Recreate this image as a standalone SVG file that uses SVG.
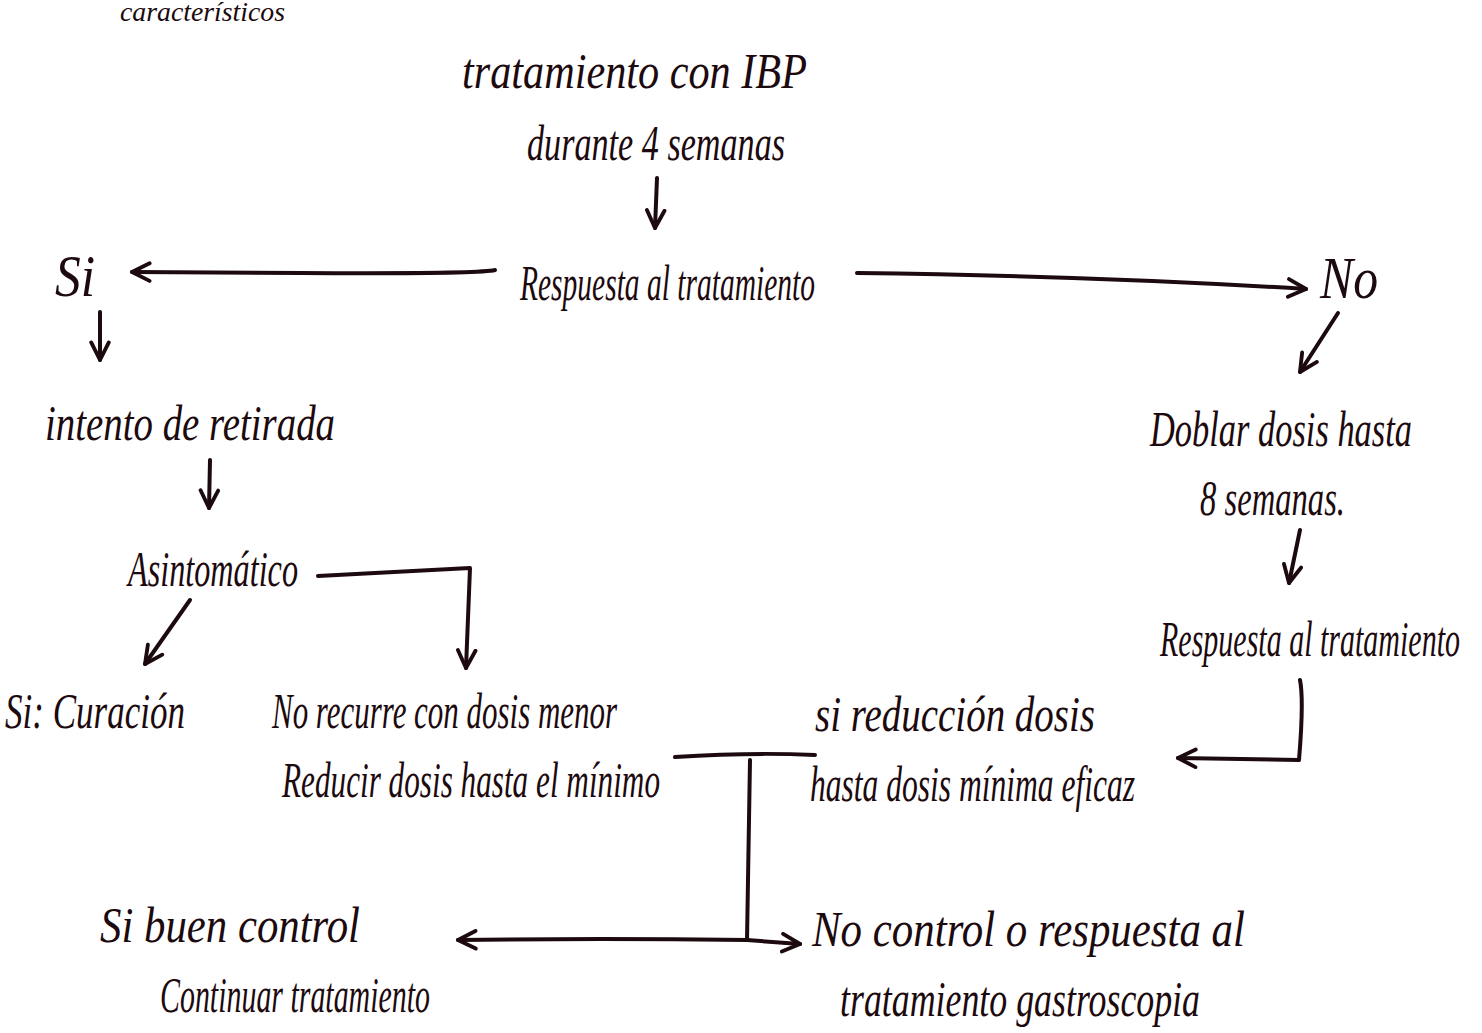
<svg xmlns="http://www.w3.org/2000/svg" width="1482" height="1033" viewBox="0 0 1482 1033">
<defs>
<style>
text{font-family:"Liberation Serif","DejaVu Serif",serif;font-style:italic;fill:#1c0a0e;font-size:50px}
.big{font-size:60px}
.c{fill:none;stroke:#1c0a0e;stroke-width:4;stroke-linecap:round;stroke-linejoin:round}
</style>
<marker id="ah" viewBox="0 0 20 20" refX="18" refY="10" markerWidth="22" markerHeight="22" markerUnits="userSpaceOnUse" orient="auto">
<path d="M2,2 L18,10 L2,18" fill="none" stroke="#1c0a0e" stroke-width="3.5" stroke-linecap="round" stroke-linejoin="round"/>
</marker>
</defs>
<rect width="1482" height="1033" fill="#ffffff"/>
<g id="n0"><text x="120" y="21" style="font-size:28px" textLength="165" lengthAdjust="spacingAndGlyphs">característicos</text></g>
<g id="n1"><text x="462" y="88" textLength="345" lengthAdjust="spacingAndGlyphs">tratamiento con IBP</text><text x="527" y="160" textLength="258" lengthAdjust="spacingAndGlyphs">durante 4 semanas</text></g>
<g id="n2"><text x="520" y="300" textLength="295" lengthAdjust="spacingAndGlyphs">Respuesta al tratamiento</text></g>
<g id="n3"><text class="big" x="55" y="296" textLength="40" lengthAdjust="spacingAndGlyphs">Si</text></g>
<g id="n4"><text class="big" x="1320" y="298" textLength="58" lengthAdjust="spacingAndGlyphs">No</text></g>
<g id="n5"><text x="45" y="440" textLength="290" lengthAdjust="spacingAndGlyphs">intento de retirada</text></g>
<g id="n6"><text x="128" y="586" textLength="170" lengthAdjust="spacingAndGlyphs">Asintomático</text></g>
<g id="n7"><text x="5" y="728" textLength="180" lengthAdjust="spacingAndGlyphs">Si: Curación</text></g>
<g id="n8"><text x="272" y="728" textLength="345" lengthAdjust="spacingAndGlyphs">No recurre con dosis menor</text><text x="282" y="797" textLength="378" lengthAdjust="spacingAndGlyphs">Reducir dosis hasta el mínimo</text></g>
<g id="n9"><text x="1150" y="446" textLength="262" lengthAdjust="spacingAndGlyphs">Doblar dosis hasta</text><text x="1200" y="515" textLength="145" lengthAdjust="spacingAndGlyphs">8 semanas.</text></g>
<g id="n10"><text x="1160" y="656" textLength="300" lengthAdjust="spacingAndGlyphs">Respuesta al tratamiento</text></g>
<g id="n11"><text x="815" y="731" textLength="280" lengthAdjust="spacingAndGlyphs">si   reducción dosis</text><text x="810" y="801" textLength="325" lengthAdjust="spacingAndGlyphs">hasta dosis mínima eficaz</text></g>
<g id="n12"><text x="100" y="942" textLength="260" lengthAdjust="spacingAndGlyphs">Si buen control</text><text x="160" y="1012" textLength="270" lengthAdjust="spacingAndGlyphs">Continuar tratamiento</text></g>
<g id="n13"><text x="812" y="946" textLength="433" lengthAdjust="spacingAndGlyphs">No control o respuesta al</text><text x="840" y="1016" textLength="360" lengthAdjust="spacingAndGlyphs">tratamiento gastroscopia</text></g>
<g id="connectors">
<path class="c" d="M657,178 L655,228" marker-end="url(#ah)"/>
<path class="c" d="M495,270 Q480,274 300,273 L132,272" marker-end="url(#ah)"/>
<path class="c" d="M857,273 Q1100,276 1306,289" marker-end="url(#ah)"/>
<path class="c" d="M1338,313 L1300,372" marker-end="url(#ah)"/>
<path class="c" d="M100,312 L100,360" marker-end="url(#ah)"/>
<path class="c" d="M210,460 L209,508" marker-end="url(#ah)"/>
<path class="c" d="M318,576 L470,568 L466,668" marker-end="url(#ah)"/>
<path class="c" d="M190,600 L145,664" marker-end="url(#ah)"/>
<path class="c" d="M1300,530 L1289,583" marker-end="url(#ah)"/>
<path class="c" d="M1300,680 Q1304,700 1299,760 L1178,758" marker-end="url(#ah)"/>
<path class="c" d="M675,757 Q750,752 815,755"/>
<path class="c" d="M750,760 L747,940"/>
<path class="c" d="M747,940 Q600,938 458,940" marker-end="url(#ah)"/>
<path class="c" d="M747,940 L800,944" marker-end="url(#ah)"/>
</g>
</svg>
